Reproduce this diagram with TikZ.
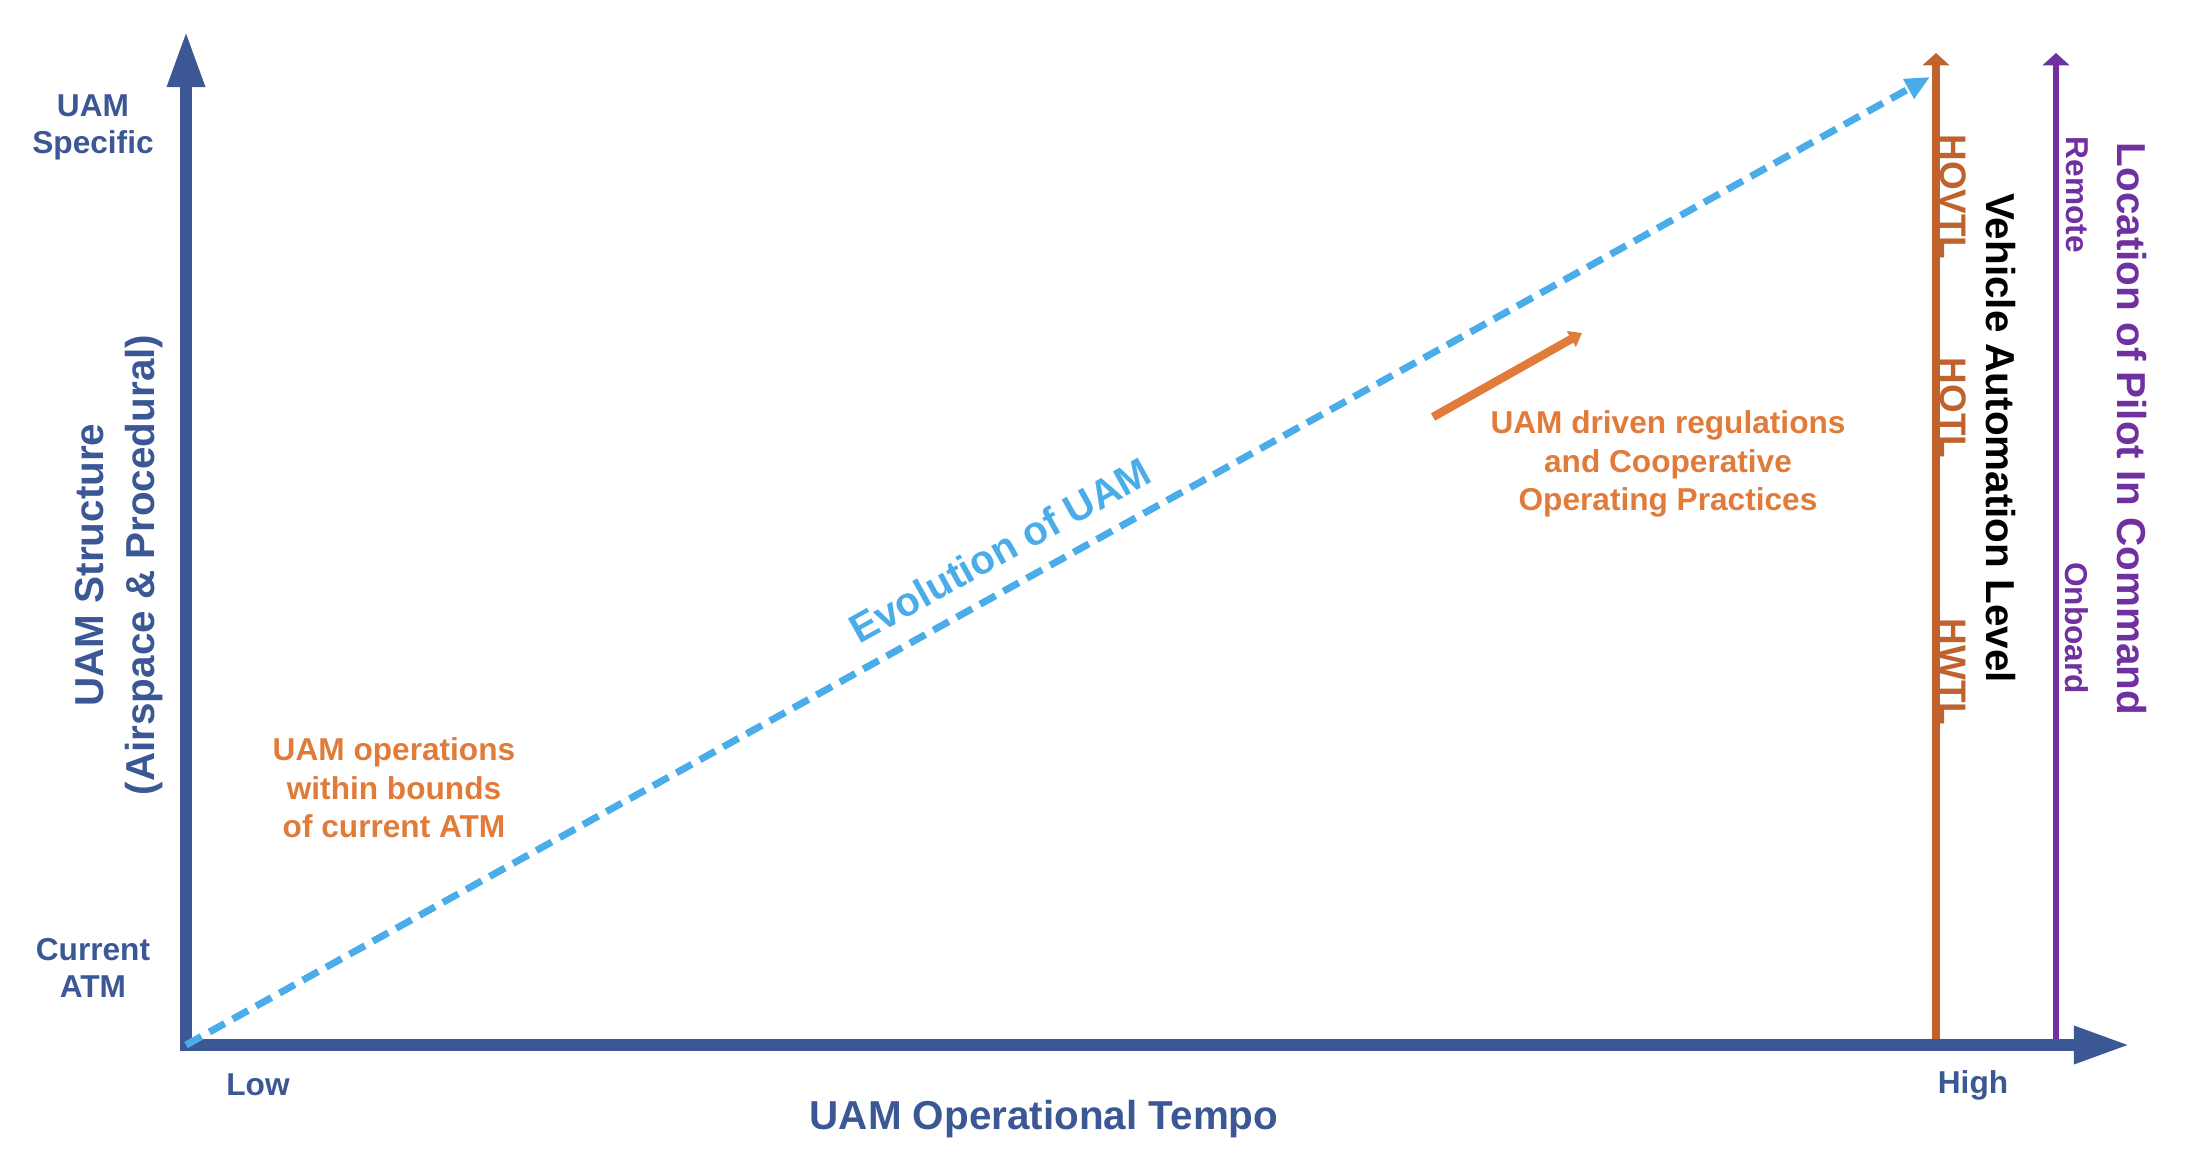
\documentclass[tikz,border=0pt]{standalone}
\usepackage{fontspec}
\setmainfont{Liberation Sans}
\usepackage{tikz}
\usetikzlibrary{arrows.meta}
\definecolor{axisblue}{HTML}{3B5794}
\definecolor{evoblue}{HTML}{4BACEA}
\definecolor{levelorange}{HTML}{C0622D}
\definecolor{noteorange}{HTML}{E07B39}
\definecolor{pilotpurple}{HTML}{7030A0}
\begin{document}
\begin{tikzpicture}[
  x=1cm,y=1cm,
  axisline/.style={draw=axisblue,line width=3.4pt,line join=miter,{Triangle[length=16pt,width=10pt]}-{Triangle[length=16pt,width=10pt]}},
  levelline/.style={line width=2.2pt,-{Triangle[length=3.5pt,width=7.5pt]}},
  evoline/.style={draw=evoblue,line width=2pt,dash pattern=on 5pt off 2.6pt,-{Triangle[length=7pt,width=6pt]}},
  drive/.style={draw=noteorange,line width=2.4pt,-{Triangle[length=3.5pt,width=5pt]}},
  ticklabel/.style={text=axisblue,font=\bfseries\fontsize{9}{10.5}\selectfont,align=center},
  remark/.style={text=noteorange,font=\bfseries\fontsize{9}{11}\selectfont,align=center},
  axistitle/.style={font=\bfseries\fontsize{11.5}{14.5}\selectfont,align=center},
  levelname/.style={text=levelorange,font=\bfseries\fontsize{10.5}{12}\selectfont,rotate=-90},
  sidename/.style={text=pilotpurple,font=\bfseries\fontsize{9}{11}\selectfont,rotate=-90}
]
\useasboundingbox (0,0) rectangle (22.06,11.72);
\coordinate (origin) at (1.86,1.27);
\coordinate (ytop) at (1.86,11.41);
\coordinate (xend) at (21.30,1.27);
\coordinate (autobase) at (19.36,1.27);
\coordinate (autotop) at (19.36,11.19);
\coordinate (pilotbase) at (20.56,1.27);
\coordinate (pilottop) at (20.56,11.19);
\coordinate (evotip) at (19.30,10.95);
\coordinate (regstart) at (14.33,7.55);
\coordinate (regend) at (15.82,8.39);
\draw[levelline,draw=levelorange] (autobase) -- (autotop);
\draw[levelline,draw=pilotpurple,line width=1.7pt] (pilotbase) -- (pilottop);
\draw[axisline] (ytop) -- (origin) -- (xend);
\draw[evoline] (origin) -- (evotip);
\draw[drive] (regstart) -- (regend);
\node[axistitle,text=evoblue,rotate=29.0] (evolution) at (10.00,6.22) {Evolution of UAM};
\node[remark] (atmnote) at (3.94,3.84) {UAM operations\\within bounds\\of current ATM};
\node[remark] (regnote) at (16.68,7.08) {UAM driven regulations\\and Cooperative\\Operating Practices};
\node[ticklabel] (specific) at (0.93,10.45) {UAM\\Specific};
\node[ticklabel] (current) at (0.93,2.04) {Current\\ATM};
\node[ticklabel] (low) at (2.58,0.87) {Low};
\node[ticklabel] (high) at (19.73,0.87) {High};
\node[axistitle,text=axisblue] (tempo) at (10.44,0.53) {UAM Operational Tempo};
\node[axistitle,text=axisblue,rotate=90] (structure) at (1.195,6.07) {UAM Structure\\(Airspace \& Procedural)};
\node[levelname] (hovtl) at (19.53,9.75) {HOVTL};
\node[levelname] (hotl) at (19.53,7.64) {HOTL};
\node[levelname] (hwtl) at (19.53,5.00) {HWTL};
\node[axistitle,rotate=-90] (automation) at (20.01,7.34) {Vehicle Automation Level};
\node[sidename] (remote) at (20.77,9.77) {Remote};
\node[sidename] (onboard) at (20.77,5.44) {Onboard};
\node[axistitle,text=pilotpurple,rotate=-90] (pilot) at (21.32,7.43) {Location of Pilot In Command};
\end{tikzpicture}
\end{document}
